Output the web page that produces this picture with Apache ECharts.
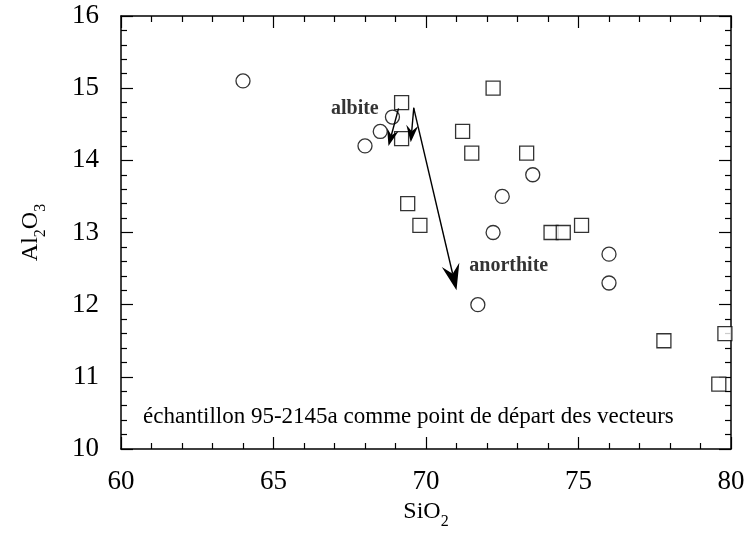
<!DOCTYPE html>
<html>
<head>
<meta charset="utf-8">
<script src="https://cdn.jsdelivr.net/npm/echarts@6/dist/echarts.min.js"></script>
<style>
  html, body { margin: 0; padding: 0; background: #fff; }
  #chart { width: 751px; height: 534px; }
</style>
</head>
<body>
<div id="chart"></div>
<script>
// points ronds
var siO2Circle = [64.0, 68.9, 68.5, 68.0, 73.5, 72.5, 72.2, 71.7, 76.0, 76.0];
var al2O3Circle = [15.1, 14.6, 14.4, 14.2, 13.8, 13.5, 13.0, 12.0, 12.7, 12.3];
// points carres
var siO2Square = [69.2, 69.2, 72.2, 71.2, 71.5, 73.3, 69.4, 69.8, 74.1, 74.5, 75.1, 77.8, 79.8, 79.6];
var al2O3Square = [14.8, 14.3, 15.0, 14.4, 14.1, 14.1, 13.4, 13.1, 13.0, 13.0, 13.1, 11.5, 11.6, 10.9];
// vecteurs (depart -> arrivee)
var vecFromX = [69.1, 69.6, 69.6];
var vecFromY = [14.72, 14.73, 14.72];
var vecToX = [68.77, 69.5, 71.0];
var vecToY = [14.2, 14.25, 12.2];
// etiquettes des vecteurs
var vecLabels = ['albite', 'anorthite'];
var vecLabelX = [68.45, 71.42];
var vecLabelY = [14.71, 12.54];
var note = 'échantillon 95-2145a comme point de départ des vecteurs';

var FONT = 'Liberation Serif';

function zip(a, b) {
  return a.map(function (v, i) { return [v, b[i]]; });
}

var vecData = vecFromX.map(function (v, i) {
  return [v, vecFromY[i], vecToX[i], vecToY[i]];
});
var labelData = vecLabels.map(function (name, i) {
  return {
    value: [vecLabelX[i], vecLabelY[i]],
    name: name,
    label: { position: i === 0 ? 'left' : 'right' }
  };
});

// fleche : trait + pointe pleine echancree
function arrow(params, api) {
  var p0 = api.coord([api.value(0), api.value(1)]);
  var p1 = api.coord([api.value(2), api.value(3)]);
  var big = params.dataIndex === vecData.length - 1;
  var L = big ? 26 : 17;
  var W = big ? 18 : 12;
  var dx = p1[0] - p0[0], dy = p1[1] - p0[1];
  var len = Math.sqrt(dx * dx + dy * dy);
  dx /= len; dy /= len;
  var nx = -dy, ny = dx;
  var bx = p1[0] - dx * L, by = p1[1] - dy * L;
  var mx = p1[0] - dx * L * 0.65, my = p1[1] - dy * L * 0.65;
  return {
    type: 'group',
    children: [
      { type: 'line', shape: { x1: p0[0], y1: p0[1], x2: mx, y2: my },
        style: { stroke: '#000', lineWidth: 1.4 } },
      { type: 'polygon',
        shape: { points: [p1, [bx + nx * W / 2, by + ny * W / 2], [mx, my], [bx - nx * W / 2, by - ny * W / 2]] },
        style: { fill: '#000' } }
    ]
  };
}

var nameRich = {
  a: { fontFamily: FONT, fontSize: 24, lineHeight: 24, verticalAlign: 'top', color: '#000' },
  s: { fontFamily: FONT, fontSize: 16, lineHeight: 30, verticalAlign: 'bottom', color: '#000' }
};

var axisCommon = {
  type: 'value',
  axisLine: { show: true, onZero: false, lineStyle: { color: '#000', width: 1.5 } },
  axisTick: { show: true, inside: true, length: 12, lineStyle: { color: '#000', width: 1.2 } },
  minorTick: { show: true, splitNumber: 5, length: 6, lineStyle: { color: '#000', width: 1.2 } },
  splitLine: { show: false }
};

function xAx(pos, showLabel) {
  return Object.assign({}, axisCommon, {
    min: 60, max: 80, interval: 5, position: pos,
    axisLabel: { show: showLabel, margin: 19, color: '#000', fontFamily: FONT, fontSize: 27 },
    name: showLabel ? '{a|SiO}{s|2}' : '',
    nameLocation: 'middle', nameGap: 48,
    nameTextStyle: { color: '#000', fontFamily: FONT, rich: nameRich }
  });
}

function yAx(pos, showLabel) {
  return Object.assign({}, axisCommon, {
    min: 10, max: 16, interval: 1, position: pos,
    axisLabel: { show: showLabel, margin: 22, color: '#000', fontFamily: FONT, fontSize: 27 },
    name: showLabel ? '{a|Al}{s|2}{a|O}{s|3}' : '',
    nameLocation: 'middle', nameGap: 72, nameRotate: 90,
    nameTextStyle: { color: '#000', fontFamily: FONT, rich: nameRich }
  });
}

var chart = echarts.init(document.getElementById('chart'), null, { renderer: 'canvas' });
chart.setOption({
  backgroundColor: '#fff',
  animation: false,
  grid: { left: 121, right: 20, top: 16, bottom: 85, containLabel: false, outerBoundsMode: 'none' },
  xAxis: [xAx('bottom', true), xAx('top', false)],
  yAxis: [yAx('left', true), yAx('right', false)],
  graphic: [{
    type: 'text', left: 143, top: 405,
    style: { text: note, font: '23px "Liberation Serif"', fill: '#000' }
  }],
  series: [
    {
      type: 'scatter', data: zip(siO2Circle, al2O3Circle),
      symbol: 'circle', symbolSize: 14,
      itemStyle: { color: '#fff', borderColor: '#000', borderWidth: 1.3 }
    },
    {
      type: 'scatter', data: zip(siO2Square, al2O3Square),
      symbol: 'rect', symbolSize: 14,
      itemStyle: { color: '#fff', borderColor: '#000', borderWidth: 1.3 }
    },
    {
      type: 'custom', data: vecData, renderItem: arrow, z: 5
    },
    {
      type: 'scatter', data: labelData, symbolSize: 0, silent: true,
      label: {
        show: true, distance: 0, formatter: '{b}', color: '#000',
        fontFamily: FONT, fontSize: 20, fontWeight: 'bold'
      }
    }
  ]
});
</script>
</body>
</html>
